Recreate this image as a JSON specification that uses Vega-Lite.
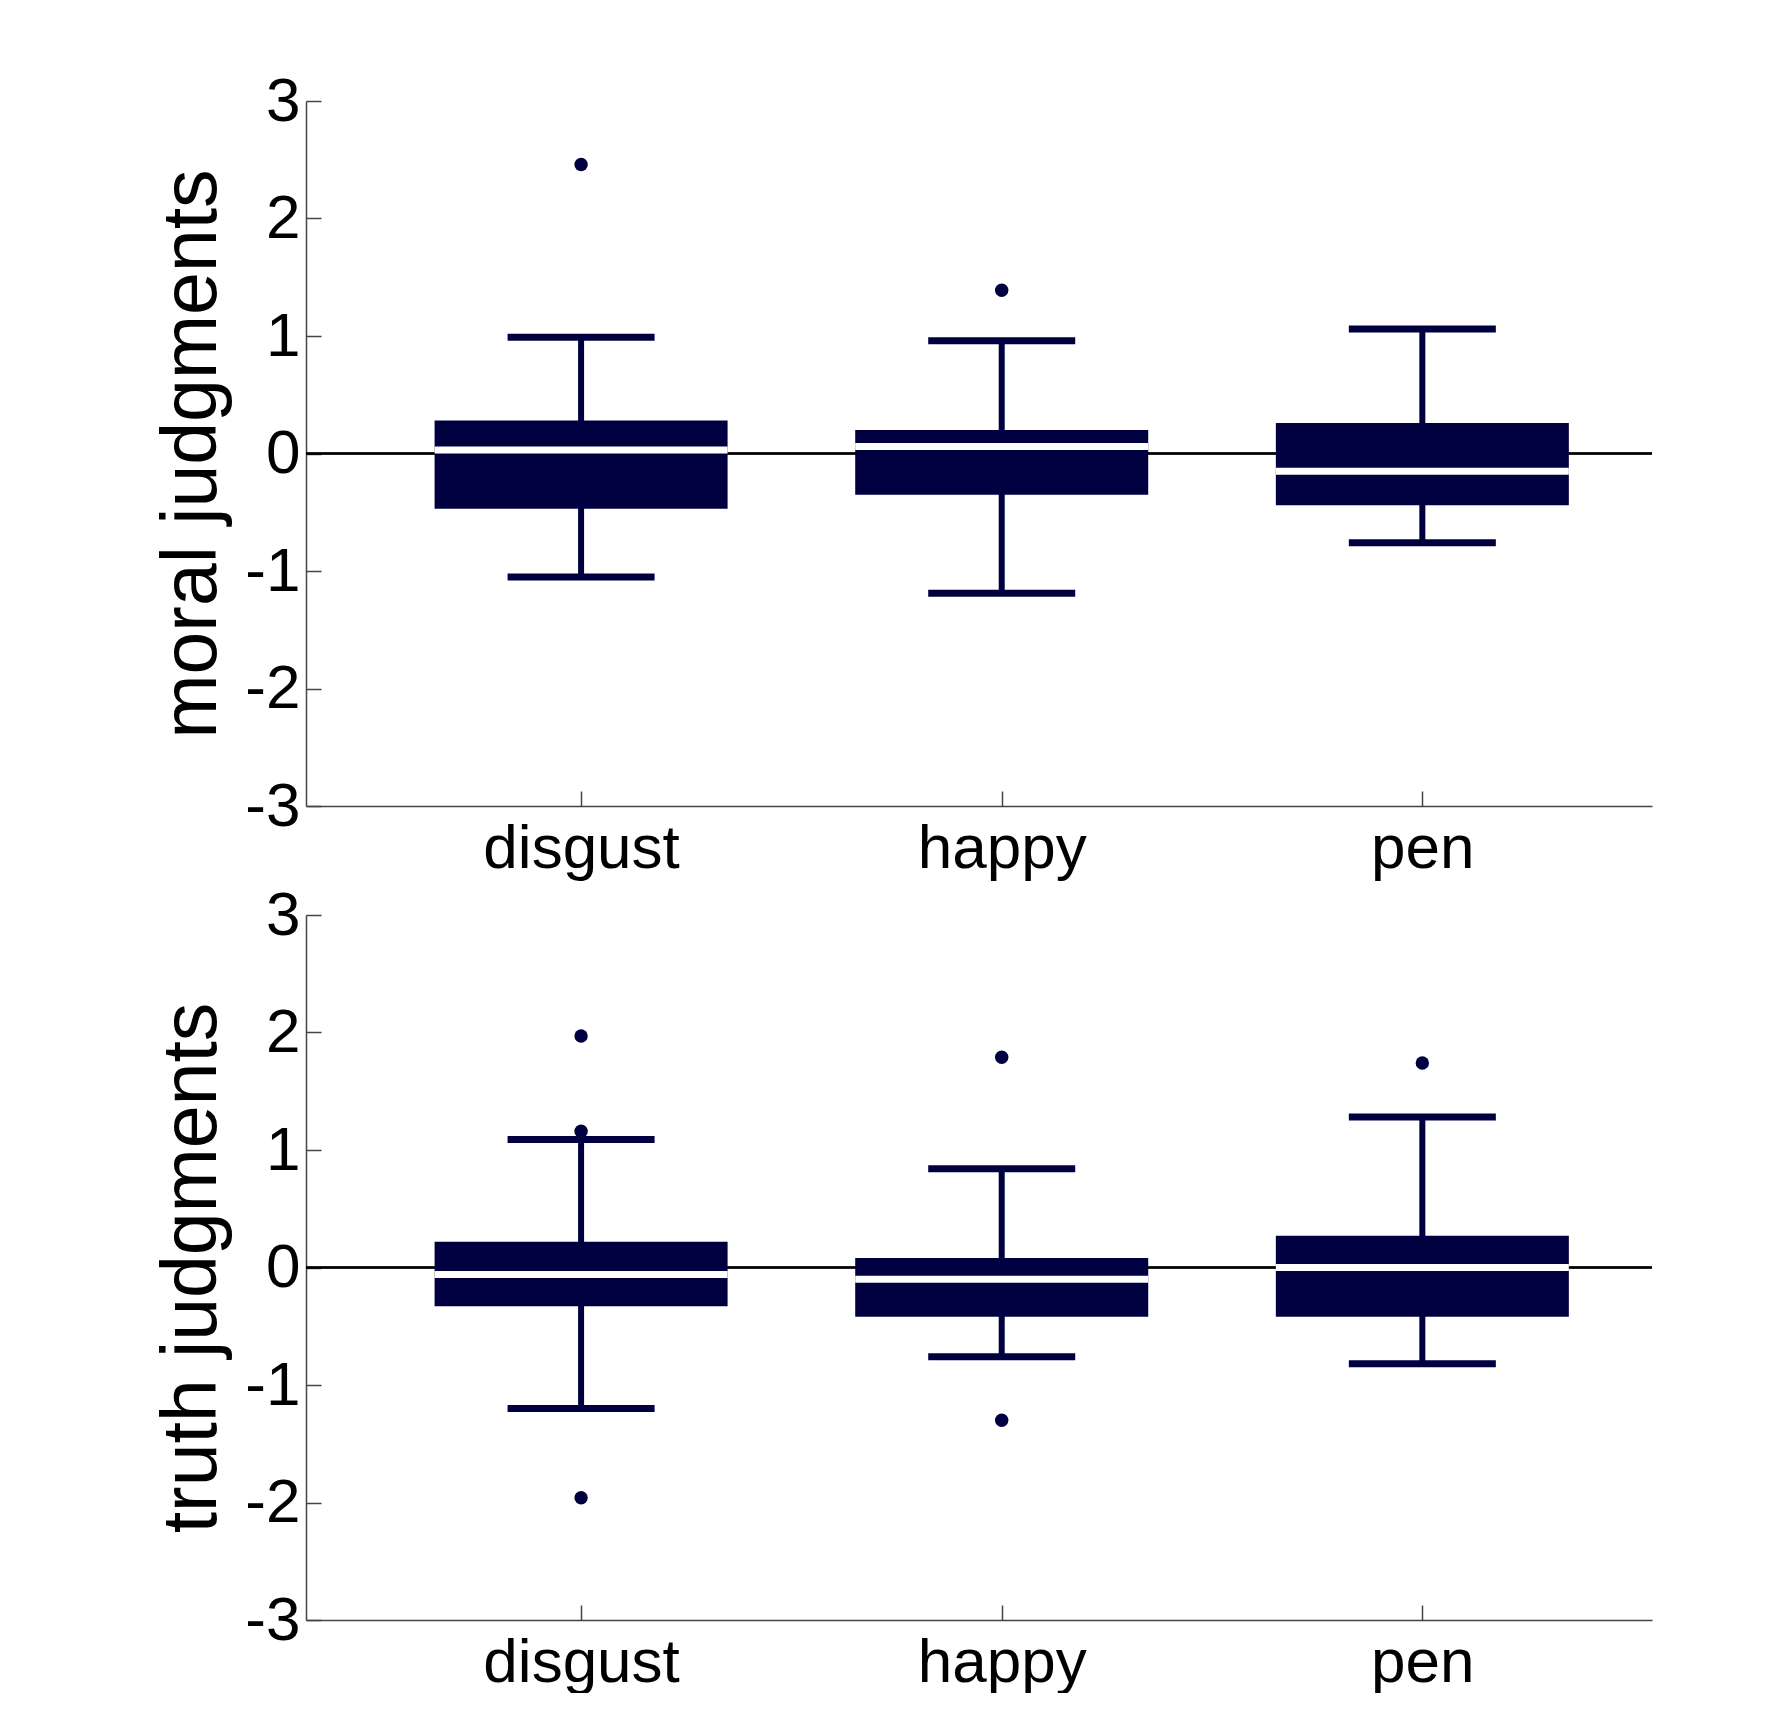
{
  "$schema": "https://vega.github.io/schema/vega-lite/v6.json",
  "background": "white",
  "padding": {"left": 153, "top": 70, "right": 0, "bottom": 0},
  "autosize": {"type": "pad"},
  "spacing": 5,
  "datasets": {
    "moral": [
      {"cat": "disgust", "lo": -1.05, "q1": -0.47, "med": 0.03, "q3": 0.28, "hi": 0.99},
      {"cat": "happy", "lo": -1.19, "q1": -0.35, "med": 0.06, "q3": 0.20, "hi": 0.96},
      {"cat": "pen", "lo": -0.76, "q1": -0.44, "med": -0.15, "q3": 0.26, "hi": 1.06}
    ],
    "moralOut": [
      {"cat": "disgust", "value": 2.46},
      {"cat": "happy", "value": 1.39}
    ],
    "truth": [
      {"cat": "disgust", "lo": -1.20, "q1": -0.33, "med": -0.06, "q3": 0.22, "hi": 1.09},
      {"cat": "happy", "lo": -0.76, "q1": -0.42, "med": -0.10, "q3": 0.08, "hi": 0.84},
      {"cat": "pen", "lo": -0.82, "q1": -0.42, "med": 0.0, "q3": 0.27, "hi": 1.28}
    ],
    "truthOut": [
      {"cat": "disgust", "value": 1.97},
      {"cat": "disgust", "value": 1.16},
      {"cat": "disgust", "value": -1.96},
      {"cat": "happy", "value": 1.79},
      {"cat": "happy", "value": -1.30},
      {"cat": "pen", "value": 1.74}
    ]
  },
  "config": {
    "font": "Liberation Sans",
    "view": {"stroke": null},
    "tick": {"opacity": 1},
    "axis": {
      "labelFont": "Liberation Sans",
      "labelFontSize": 62,
      "labelColor": "black",
      "labelLimit": 0,
      "titleFont": "Liberation Sans",
      "titleFontSize": 77,
      "titleFontWeight": "normal",
      "titleColor": "black",
      "domainColor": "#444444",
      "domainWidth": 1.5,
      "tickColor": "#444444",
      "tickWidth": 1.5,
      "tickSize": -15,
      "grid": false
    }
  },
  "vconcat": [
    {
      "width": 1346,
      "height": 705,
      "data": {"name": "moral"},
      "layer": [
        {
          "mark": {"type": "rule", "color": "black", "strokeWidth": 2},
          "encoding": {
            "y": {"datum": 0, "type": "quantitative", "title": "moral judgments",
                  "scale": {"domain": [-3, 3], "nice": false, "zero": false},
                  "axis": {"values": [-3, -2, -1, 0, 1, 2, 3], "labelExpr": "'' + datum.value", "labelPadding": 21, "titlePadding": 13}}
          }
        },
        {
          "mark": {"type": "rule", "color": "#000040", "strokeWidth": 6},
          "encoding": {
            "x": {"field": "cat", "type": "nominal", "title": null,
                  "scale": {"type": "point", "domain": ["disgust", "happy", "pen"], "padding": 0.6, "align": 0.545},
                  "axis": {"labelAngle": 0, "labelPadding": 27}},
            "y": {"field": "lo", "type": "quantitative", "title": "moral judgments"},
            "y2": {"field": "hi"}
          }
        },
        {
          "mark": {"type": "tick", "color": "#000040", "size": 147, "thickness": 7, "orient": "horizontal", "opacity": 1},
          "encoding": {
            "x": {"field": "cat", "type": "nominal", "title": null},
            "y": {"field": "lo", "type": "quantitative", "title": "moral judgments"}
          }
        },
        {
          "mark": {"type": "tick", "color": "#000040", "size": 147, "thickness": 7, "orient": "horizontal", "opacity": 1},
          "encoding": {
            "x": {"field": "cat", "type": "nominal", "title": null},
            "y": {"field": "hi", "type": "quantitative", "title": "moral judgments"}
          }
        },
        {
          "mark": {"type": "bar", "color": "#000040", "size": 293},
          "encoding": {
            "x": {"field": "cat", "type": "nominal", "title": null},
            "y": {"field": "q1", "type": "quantitative", "title": "moral judgments"},
            "y2": {"field": "q3"}
          }
        },
        {
          "mark": {"type": "tick", "color": "white", "size": 293, "thickness": 7, "orient": "horizontal", "opacity": 1},
          "encoding": {
            "x": {"field": "cat", "type": "nominal", "title": null},
            "y": {"field": "med", "type": "quantitative", "title": "moral judgments"}
          }
        },
        {
          "data": {"name": "moralOut"},
          "mark": {"type": "circle", "color": "#000040", "size": 180, "opacity": 1},
          "encoding": {
            "x": {"field": "cat", "type": "nominal", "title": null},
            "y": {"field": "value", "type": "quantitative", "title": "moral judgments"}
          }
        }
      ]
    },
    {
      "width": 1346,
      "height": 705,
      "data": {"name": "truth"},
      "layer": [
        {
          "mark": {"type": "rule", "color": "black", "strokeWidth": 2},
          "encoding": {
            "y": {"datum": 0, "type": "quantitative", "title": "truth judgments",
                  "scale": {"domain": [-3, 3], "nice": false, "zero": false},
                  "axis": {"values": [-3, -2, -1, 0, 1, 2, 3], "labelExpr": "'' + datum.value", "labelPadding": 21, "titlePadding": 13}}
          }
        },
        {
          "mark": {"type": "rule", "color": "#000040", "strokeWidth": 6},
          "encoding": {
            "x": {"field": "cat", "type": "nominal", "title": null,
                  "scale": {"type": "point", "domain": ["disgust", "happy", "pen"], "padding": 0.6, "align": 0.545},
                  "axis": {"labelAngle": 0, "labelPadding": 27}},
            "y": {"field": "lo", "type": "quantitative", "title": "truth judgments"},
            "y2": {"field": "hi"}
          }
        },
        {
          "mark": {"type": "tick", "color": "#000040", "size": 147, "thickness": 7, "orient": "horizontal", "opacity": 1},
          "encoding": {
            "x": {"field": "cat", "type": "nominal", "title": null},
            "y": {"field": "lo", "type": "quantitative", "title": "truth judgments"}
          }
        },
        {
          "mark": {"type": "tick", "color": "#000040", "size": 147, "thickness": 7, "orient": "horizontal", "opacity": 1},
          "encoding": {
            "x": {"field": "cat", "type": "nominal", "title": null},
            "y": {"field": "hi", "type": "quantitative", "title": "truth judgments"}
          }
        },
        {
          "mark": {"type": "bar", "color": "#000040", "size": 293},
          "encoding": {
            "x": {"field": "cat", "type": "nominal", "title": null},
            "y": {"field": "q1", "type": "quantitative", "title": "truth judgments"},
            "y2": {"field": "q3"}
          }
        },
        {
          "mark": {"type": "tick", "color": "white", "size": 293, "thickness": 7, "orient": "horizontal", "opacity": 1},
          "encoding": {
            "x": {"field": "cat", "type": "nominal", "title": null},
            "y": {"field": "med", "type": "quantitative", "title": "truth judgments"}
          }
        },
        {
          "data": {"name": "truthOut"},
          "mark": {"type": "circle", "color": "#000040", "size": 180, "opacity": 1},
          "encoding": {
            "x": {"field": "cat", "type": "nominal", "title": null},
            "y": {"field": "value", "type": "quantitative", "title": "truth judgments"}
          }
        }
      ]
    }
  ]
}
